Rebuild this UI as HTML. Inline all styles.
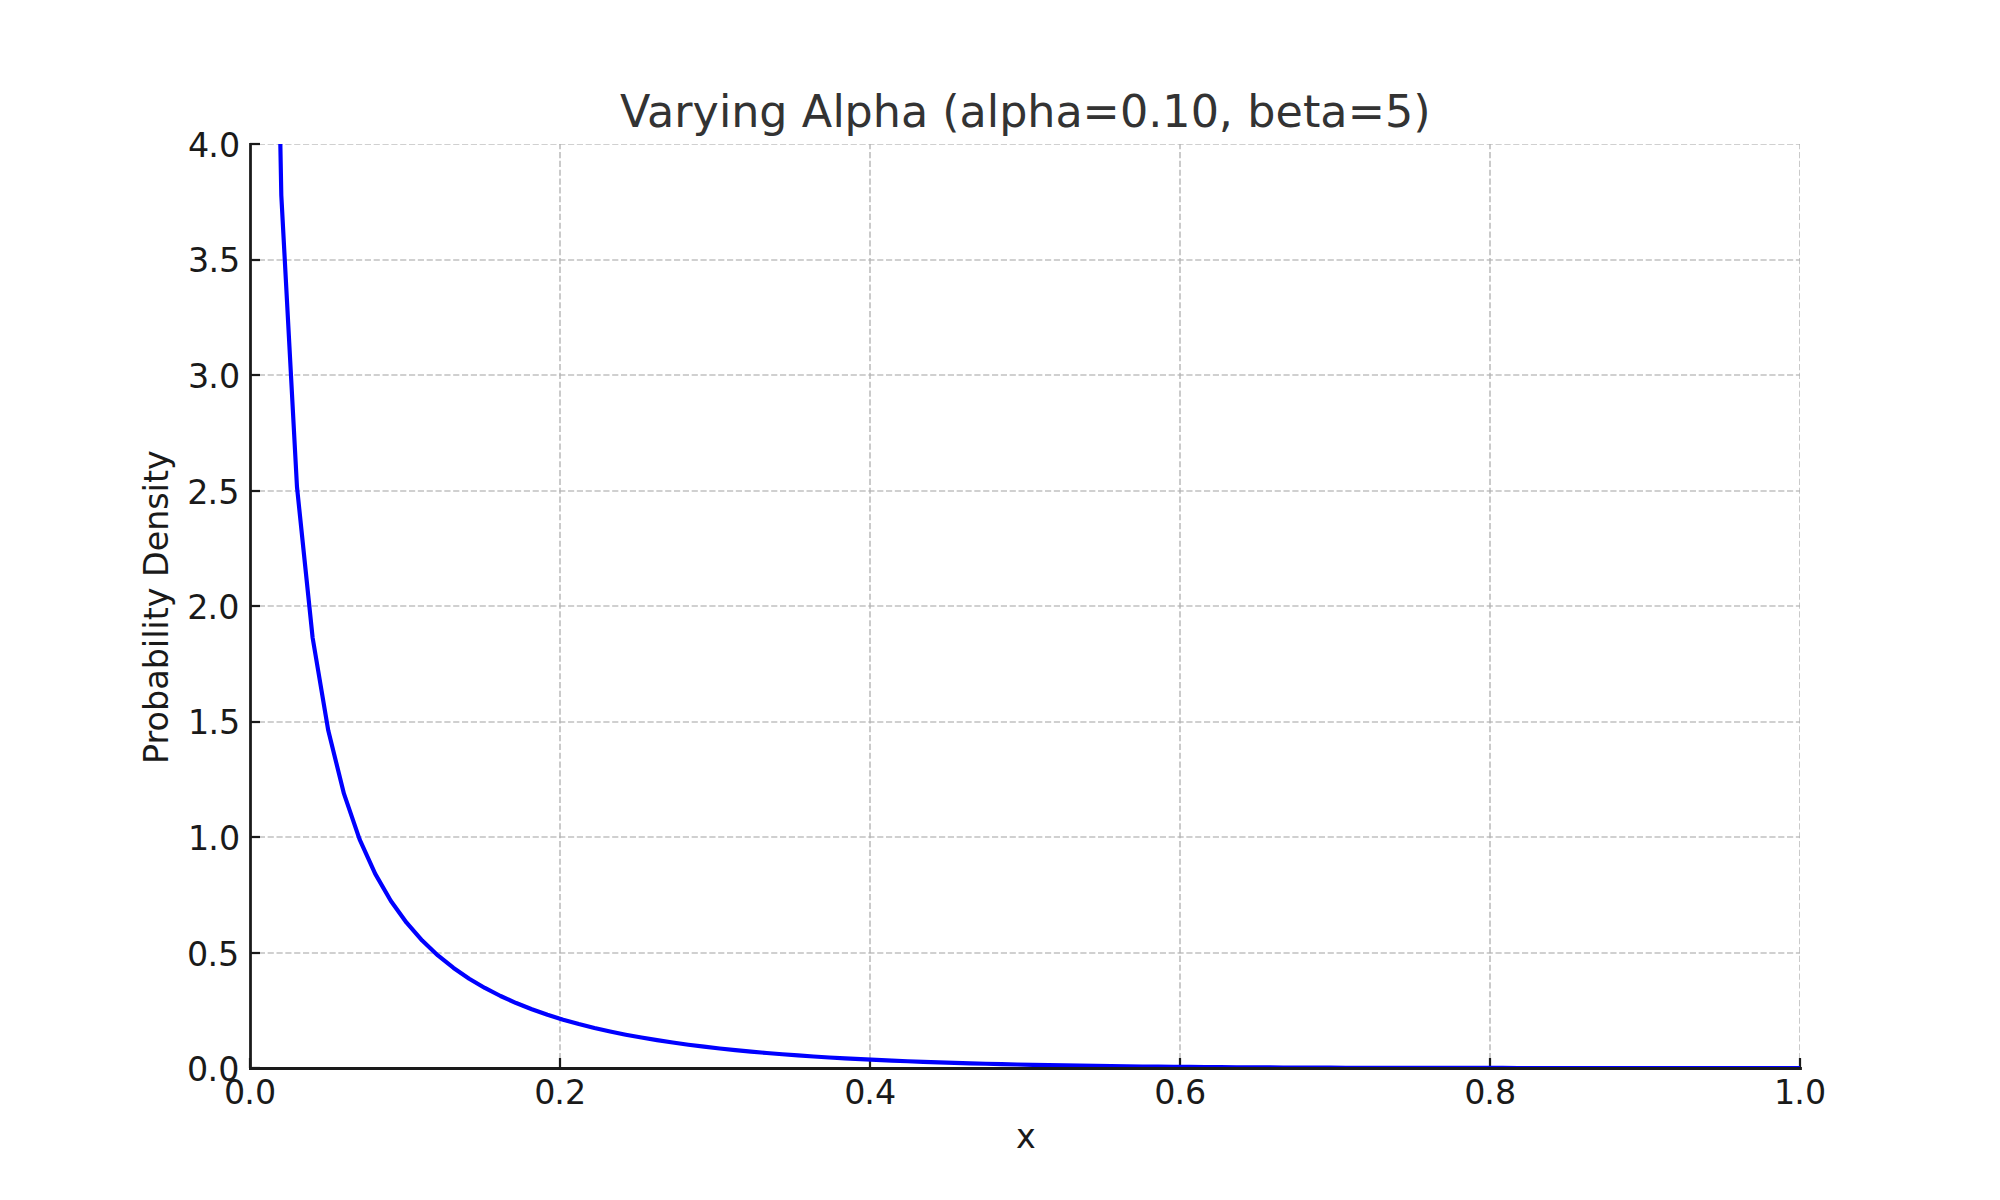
<!DOCTYPE html>
<html lang="en">
<head>
<meta charset="utf-8">
<title>Varying Alpha (alpha=0.10, beta=5)</title>
<style>
html,body{margin:0;padding:0;background:#ffffff;}
body{width:2000px;height:1200px;overflow:hidden;}
svg{display:block;}
text{font-family:"DejaVu Sans","Liberation Sans",sans-serif;}
.tk{font-size:33.33px;fill:#1a1a1a;}
.ttl{font-size:44.44px;fill:#333333;}
</style>
</head>
<body>
<svg width="2000" height="1200" viewBox="0 0 2000 1200">
<rect x="0" y="0" width="2000" height="1200" fill="#ffffff"/>
<defs><clipPath id="ax"><rect x="250" y="144" width="1550" height="924"/></clipPath></defs>

<g clip-path="url(#ax)" stroke="#b0b0b0" stroke-width="1.67" stroke-dasharray="6.1667 2.6667" stroke-opacity="0.8" fill="none">
<line x1="250" y1="1068" x2="250" y2="144"/>
<line x1="560" y1="1068" x2="560" y2="144"/>
<line x1="870" y1="1068" x2="870" y2="144"/>
<line x1="1180" y1="1068" x2="1180" y2="144"/>
<line x1="1490" y1="1068" x2="1490" y2="144"/>
<line x1="1800" y1="1068" x2="1800" y2="144"/>
<line x1="250" y1="1068" x2="1800" y2="1068"/>
<line x1="250" y1="953" x2="1800" y2="953"/>
<line x1="250" y1="837" x2="1800" y2="837"/>
<line x1="250" y1="722" x2="1800" y2="722"/>
<line x1="250" y1="606" x2="1800" y2="606"/>
<line x1="250" y1="491" x2="1800" y2="491"/>
<line x1="250" y1="375" x2="1800" y2="375"/>
<line x1="250" y1="260" x2="1800" y2="260"/>
<line x1="250" y1="144" x2="1800" y2="144"/>
</g>
<g stroke="#1a1a1a" stroke-width="2.22">
<line x1="250" y1="1068" x2="250" y2="1058"/>
<line x1="560" y1="1068" x2="560" y2="1058"/>
<line x1="870" y1="1068" x2="870" y2="1058"/>
<line x1="1180" y1="1068" x2="1180" y2="1058"/>
<line x1="1490" y1="1068" x2="1490" y2="1058"/>
<line x1="1800" y1="1068" x2="1800" y2="1058"/>
<line x1="250" y1="1068" x2="260" y2="1068"/>
<line x1="250" y1="953" x2="260" y2="953"/>
<line x1="250" y1="837" x2="260" y2="837"/>
<line x1="250" y1="722" x2="260" y2="722"/>
<line x1="250" y1="606" x2="260" y2="606"/>
<line x1="250" y1="491" x2="260" y2="491"/>
<line x1="250" y1="375" x2="260" y2="375"/>
<line x1="250" y1="260" x2="260" y2="260"/>
<line x1="250" y1="144" x2="260" y2="144"/>
</g>
<g clip-path="url(#ax)"><path d="M265.66,-628.65 L281.31,195.33 L296.97,486.75 L312.63,637.74 L328.28,730.61 L343.94,793.66 L359.60,839.31 L375.25,873.88 L390.91,900.95 L406.57,922.71 L422.22,940.54 L437.88,955.41 L453.54,967.97 L469.19,978.70 L484.85,987.96 L500.51,996.01 L516.16,1003.06 L531.82,1009.27 L547.47,1014.77 L563.13,1019.66 L578.79,1024.04 L594.44,1027.96 L610.10,1031.49 L625.76,1034.68 L641.41,1037.56 L657.07,1040.17 L672.73,1042.54 L688.38,1044.70 L704.04,1046.67 L719.70,1048.47 L735.35,1050.11 L751.01,1051.62 L766.67,1053.00 L782.32,1054.26 L797.98,1055.42 L813.64,1056.48 L829.29,1057.46 L844.95,1058.36 L860.61,1059.18 L876.26,1059.94 L891.92,1060.64 L907.58,1061.28 L923.23,1061.87 L938.89,1062.41 L954.55,1062.91 L970.20,1063.37 L985.86,1063.79 L1001.52,1064.18 L1017.17,1064.54 L1032.83,1064.86 L1048.48,1065.16 L1064.14,1065.44 L1079.80,1065.69 L1095.45,1065.92 L1111.11,1066.13 L1126.77,1066.32 L1142.42,1066.50 L1158.08,1066.65 L1173.74,1066.80 L1189.39,1066.93 L1205.05,1067.05 L1220.71,1067.16 L1236.36,1067.26 L1252.02,1067.35 L1267.68,1067.43 L1283.33,1067.50 L1298.99,1067.56 L1314.65,1067.62 L1330.30,1067.67 L1345.96,1067.72 L1361.62,1067.76 L1377.27,1067.79 L1392.93,1067.82 L1408.59,1067.85 L1424.24,1067.87 L1439.90,1067.90 L1455.56,1067.91 L1471.21,1067.93 L1486.87,1067.94 L1502.53,1067.95 L1518.18,1067.96 L1533.84,1067.97 L1549.49,1067.98 L1565.15,1067.98 L1580.81,1067.99 L1596.46,1067.99 L1612.12,1067.99 L1627.78,1068.00 L1643.43,1068.00 L1659.09,1068.00 L1674.75,1068.00 L1690.40,1068.00 L1706.06,1068.00 L1721.72,1068.00 L1737.37,1068.00 L1753.03,1068.00 L1768.69,1068.00 L1784.34,1068.00 L1800.00,1068.00" fill="none" stroke="#0000ff" stroke-width="4.17" stroke-linejoin="round" stroke-linecap="butt"/></g>
<g stroke="#1a1a1a" stroke-width="2.78" stroke-linecap="square" fill="none">
<line x1="250.5" y1="144.5" x2="250.5" y2="1068.5"/>
<line x1="250.5" y1="1068.5" x2="1800.5" y2="1068.5"/>
</g>
<text class="tk" x="224.09 244.29 254.94" y="1103.50">0.0</text>
<text class="tk" x="534.14 554.35 565.09" y="1103.50">0.2</text>
<text class="tk" x="844.14 864.35 875.09" y="1103.50">0.4</text>
<text class="tk" x="1154.14 1174.39 1185.09" y="1103.50">0.6</text>
<text class="tk" x="1464.14 1484.35 1495.04" y="1103.50">0.8</text>
<text class="tk" x="1774.04 1794.30 1804.94" y="1103.50">1.0</text>
<text class="tk" x="187.03 207.39 218.13" y="1081.30">0.0</text>
<text class="tk" x="187.03 207.39 217.98" y="965.80">0.5</text>
<text class="tk" x="187.93 208.24 219.08" y="850.30">1.0</text>
<text class="tk" x="187.93 208.39 218.98" y="733.80">1.5</text>
<text class="tk" x="187.18 207.59 218.13" y="619.30">2.0</text>
<text class="tk" x="187.18 207.59 218.28" y="503.80">2.5</text>
<text class="tk" x="188.08 208.24 219.08" y="388.30">3.0</text>
<text class="tk" x="188.08 208.39 218.98" y="271.80">3.5</text>
<text class="tk" x="187.98 208.24 219.08" y="157.30">4.0</text>
<text class="tk" x="1015.88" y="1148.00">x</text>
<text class="tk" transform="translate(168,607.1) rotate(-90)" x="-156.99 -137.29 -124.32 -103.88 -82.78 -62.26 -41.15 -31.78 -22.62 -13.17 -0.19 19.43 30.02 55.83 76.44 97.45 114.68 124.18 137.01" y="0.00">Probability Density</text>
<text class="ttl" x="620.07 646.96 674.19 692.46 719.00 731.35 759.37 787.72 801.85 832.40 844.60 872.80 900.97 928.21 942.23 959.56 986.84 999.14 1027.24 1055.46 1082.55 1119.93 1148.35 1162.32 1190.64 1218.87 1233.14 1247.27 1275.62 1302.97 1320.34 1347.87 1385.06 1413.17" y="126.80">Varying Alpha (alpha=0.10, beta=5)</text>
</svg>
</body>
</html>
